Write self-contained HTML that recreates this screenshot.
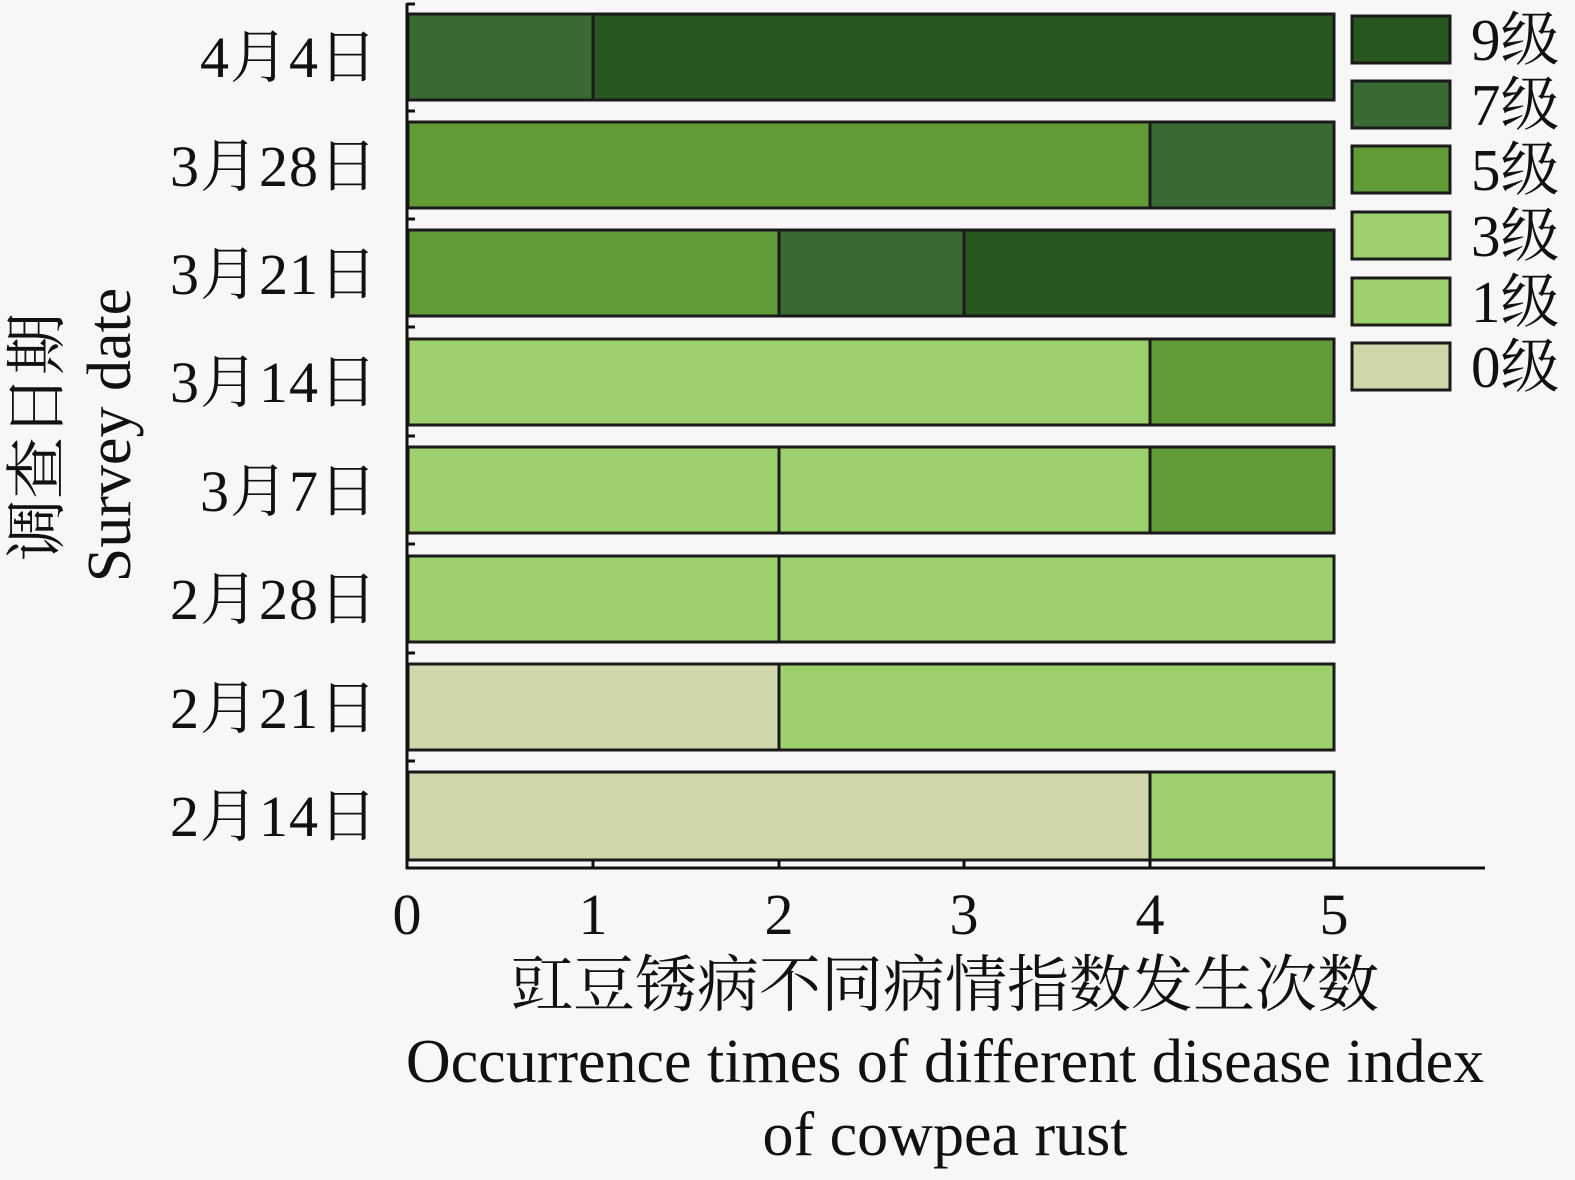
<!DOCTYPE html>
<html><head><meta charset="utf-8"><style>
html,body{margin:0;padding:0;background:#f7f7f7;}
svg{display:block;}
text{font-family:"Liberation Serif","Noto Serif CJK SC",serif;fill:#111;}
</style></head><body>
<svg width="1575" height="1180" viewBox="0 0 1575 1180" xmlns="http://www.w3.org/2000/svg">
<rect width="1575" height="1180" fill="#f7f7f7"/>
<g stroke="#1a1a1a" stroke-width="3">
<rect x="408" y="14" width="185" height="86" fill="#3a6a33"/>
<rect x="593" y="14" width="741" height="86" fill="#27571f"/>
<rect x="408" y="122" width="742" height="86" fill="#619b35"/>
<rect x="1150" y="122" width="184" height="86" fill="#3a6a33"/>
<rect x="408" y="230" width="371" height="86" fill="#619b35"/>
<rect x="779" y="230" width="185" height="86" fill="#3a6a33"/>
<rect x="964" y="230" width="370" height="86" fill="#27571f"/>
<rect x="408" y="339" width="742" height="86" fill="#9dd16e"/>
<rect x="1150" y="339" width="184" height="86" fill="#619b35"/>
<rect x="408" y="447" width="371" height="86" fill="#9dd16e"/>
<rect x="779" y="447" width="371" height="86" fill="#9dd16e"/>
<rect x="1150" y="447" width="184" height="86" fill="#619b35"/>
<rect x="408" y="556" width="371" height="86" fill="#9dd16e"/>
<rect x="779" y="556" width="555" height="86" fill="#9dd16e"/>
<rect x="408" y="664" width="371" height="86" fill="#d2d6ab"/>
<rect x="779" y="664" width="555" height="86" fill="#9dd16e"/>
<rect x="408" y="772" width="742" height="88" fill="#d2d6ab"/>
<rect x="1150" y="772" width="184" height="88" fill="#9dd16e"/>
</g>
<g stroke="#111" stroke-width="3" fill="none">
<line x1="407" y1="3" x2="407" y2="869"/>
<line x1="406" y1="868" x2="1485" y2="868"/>
<line x1="593" y1="868" x2="593" y2="860"/>
<line x1="779" y1="868" x2="779" y2="860"/>
<line x1="964" y1="868" x2="964" y2="860"/>
<line x1="1150" y1="868" x2="1150" y2="860"/>
<line x1="1334" y1="868" x2="1334" y2="860"/>
<line x1="407" y1="4" x2="415" y2="4"/>
<line x1="407" y1="111" x2="415" y2="111"/>
<line x1="407" y1="219" x2="415" y2="219"/>
<line x1="407" y1="327" x2="415" y2="327"/>
<line x1="407" y1="436" x2="415" y2="436"/>
<line x1="407" y1="544" x2="415" y2="544"/>
<line x1="407" y1="653" x2="415" y2="653"/>
<line x1="407" y1="761" x2="415" y2="761"/>
</g>
<g font-size="58" text-anchor="end" letter-spacing="1">
<text x="378" y="77">4月4日</text>
<text x="378" y="186">3月28日</text>
<text x="378" y="294">3月21日</text>
<text x="378" y="402">3月14日</text>
<text x="378" y="511">3月7日</text>
<text x="378" y="619">2月28日</text>
<text x="378" y="728">2月21日</text>
<text x="378" y="836">2月14日</text>
</g>
<g font-size="58" text-anchor="middle">
<text x="407" y="934">0</text>
<text x="593" y="934">1</text>
<text x="779" y="934">2</text>
<text x="964" y="934">3</text>
<text x="1150" y="934">4</text>
<text x="1334" y="934">5</text>
<text x="945" y="1006" font-size="62">豇豆锈病不同病情指数发生次数</text>
<text x="945" y="1082" font-size="62">Occurrence times of different disease index</text>
<text x="945" y="1155" font-size="62">of cowpea rust</text>
</g>
<text transform="translate(58,437) rotate(-90)" text-anchor="middle" font-size="62">调查日期</text>
<text transform="translate(130,435) rotate(-90)" text-anchor="middle" font-size="62">Survey date</text>
<g stroke="#1a1a1a" stroke-width="3">
<rect x="1352" y="16" width="98" height="47" fill="#27571f"/>
<rect x="1352" y="81" width="98" height="47" fill="#3a6a33"/>
<rect x="1352" y="146" width="98" height="47" fill="#619b35"/>
<rect x="1352" y="212" width="98" height="47" fill="#9dd16e"/>
<rect x="1352" y="278" width="98" height="47" fill="#9dd16e"/>
<rect x="1352" y="343" width="98" height="47" fill="#d2d6ab"/>
</g>
<g font-size="59">
<text x="1471" y="60">9级</text>
<text x="1471" y="125">7级</text>
<text x="1471" y="190">5级</text>
<text x="1471" y="256">3级</text>
<text x="1471" y="322">1级</text>
<text x="1471" y="387">0级</text>
</g>
</svg>
</body></html>
